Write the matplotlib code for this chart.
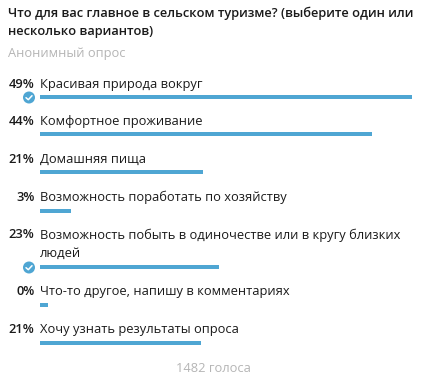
import matplotlib
matplotlib.use("Agg")
import matplotlib.pyplot as plt
from matplotlib.patches import Circle

plt.rcParams['font.family'] = ['Open Sans', 'DejaVu Sans']

W, H = 427, 384
title_lines = ["Что для вас главное в сельском туризме? (выберите один или",
               "несколько вариантов)"]
subtitle = "Анонимный опрос"
options = [["Красивая природа вокруг"], ["Комфортное проживание"], ["Домашняя пища"],
           ["Возможность поработать по хозяйству"],
           ["Возможность побыть в одиночестве или в кругу близких", "людей"],
           ["Что-то другое, напишу в комментариях"], ["Хочу узнать результаты опроса"]]
percent_labels = ["49%", "44%", "21%", "3%", "23%", "0%", "21%"]
bar_values = [49.0, 43.7, 21.5, 4.1, 23.6, 1.1, 21.2]
chosen = [True, False, False, False, True, False, False]
footer = "1482 голоса"

bar_y = [97, 134, 172, 211, 267, 305, 343]
label_y = [84.5, 121.5, 159.5, 197.5, 235, 291.5, 329.5]

BLUE = "#4fa6d3"
TEXT = "#1a1a1a"
GREY = "#b5b5b5"
FS = 9.27

fig = plt.figure(figsize=(W / 100, H / 100), dpi=100, facecolor="white")

bg = fig.add_axes([0, 0, 1, 1])
bg.set_xlim(0, W)
bg.set_ylim(H, 0)
bg.axis("off")

ax = fig.add_axes([40 / W, 0, 372 / W, 1])
ax.set_xlim(0, 49)
ax.set_ylim(H, 0)
ax.axis("off")
ax.patch.set_alpha(0)
ax.barh(bar_y, bar_values, height=4.2, left=0, color=BLUE, linewidth=0)

bg.text(8, 13, title_lines[0], fontsize=FS, fontweight=600, color=TEXT, va="center", ha="left")
bg.text(8, 31, title_lines[1], fontsize=FS, fontweight=600, color=TEXT, va="center", ha="left")
bg.text(8, 53, subtitle, fontsize=FS, color=GREY, va="center", ha="left")

for lines, pct, ly, by, ch in zip(options, percent_labels, label_y, bar_y, chosen):
    bg.text(34.5, ly, pct, fontsize=FS, fontweight=600, color=TEXT, va="center", ha="right")
    for i, line in enumerate(lines):
        bg.text(40, ly + 18 * i, line, fontsize=FS, color=TEXT, va="center", ha="left")
    if ch:
        bg.add_patch(Circle((29, by + 0.5), 6, facecolor=BLUE, edgecolor="none"))
        bg.plot([26, 28.3, 32], [by + 0.7, by + 2.7, by - 1.3], color="white", lw=1.1,
                solid_capstyle="round", solid_joinstyle="round")

bg.text(213, 369, footer, fontsize=FS, color=GREY, va="center", ha="center")

fig.savefig("out.png", dpi=100, facecolor="white")
